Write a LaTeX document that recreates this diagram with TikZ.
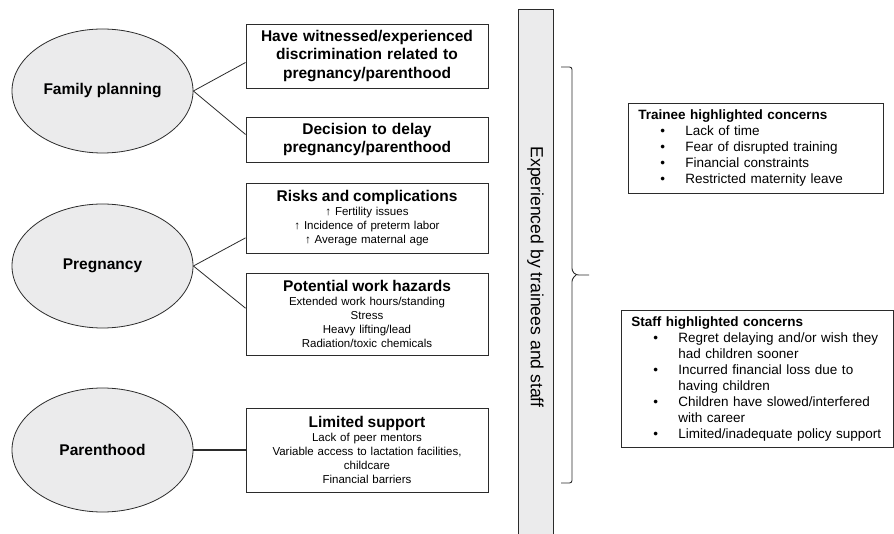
\documentclass[tikz,border=0pt]{standalone}
\usepackage{fontspec}
\setmainfont{Liberation Sans}
\usetikzlibrary{shapes.geometric,calc}
\definecolor{fillg}{HTML}{EBEBEC}
\definecolor{lineg}{HTML}{2B2B2B}
\newcommand\bitem[1]{\hspace*{22pt}\makebox[25pt][l]{•}#1}
\newcommand\bcont[1]{\hspace*{47pt}#1}
\begin{document}
\begin{tikzpicture}[x=1pt,y=-1pt,
 oval/.style={ellipse, draw=lineg, fill=fillg, line width=0.8pt, minimum width=181pt, minimum height=124pt, inner sep=0pt, font=\fontsize{15.5}{18}\selectfont\bfseries},
 lbox/.style={draw=lineg, line width=0.9pt, text width=232pt, align=center, inner xsep=5pt, inner ysep=0pt},
 boldtxt/.style={font=\fontsize{15.5}{18.3}\selectfont\bfseries},
 smalltxt/.style={font=\fontsize{11.5}{14}\selectfont},
 rbox/.style={draw=lineg, line width=0.9pt, align=left, inner ysep=0pt, anchor=north west, font=\fontsize{13.5}{16}\selectfont},
 link/.style={draw=lineg, line width=0.8pt},
 bracestyle/.style={draw=lineg, line width=0.9pt, rounded corners=2.5pt}]
\useasboundingbox (0,0) rectangle (894,534);
\clip (0,0) rectangle (894,534);
\fill[white] (0,0) rectangle (894,534);

% ellipses
\node[oval] (fp) at (102.5,91) {Family planning};
\node[oval] (pg) at (102.5,266) {Pregnancy};
\node[oval] (ph) at (102.5,450) {Parenthood};

% left boxes
\node[lbox, boldtxt, minimum height=64pt] (b1) at (367,56) {Have witnessed/experienced\\discrimination related to\\pregnancy/parenthood};
\node[lbox, boldtxt, minimum height=45pt] (b2) at (367,139.5) {Decision to delay\\pregnancy/parenthood};
\node[lbox, smalltxt, minimum height=70pt] (b3) at (367,218) {{\fontsize{15.5}{16}\selectfont\bfseries Risks and complications}\\ ↑ Fertility issues\\ ↑ Incidence of preterm labor\\ ↑ Average maternal age};
\node[lbox, smalltxt, minimum height=82pt] (b4) at (367,314) {{\fontsize{15.5}{16}\selectfont\bfseries Potential work hazards}\\ Extended work hours/standing\\ Stress\\ Heavy lifting/lead\\ Radiation/toxic chemicals};
\node[lbox, smalltxt, minimum height=84pt] (b5) at (367,450) {{\fontsize{15.5}{16}\selectfont\bfseries Limited support}\\ Lack of peer mentors\\ Variable access to lactation facilities,\\ childcare\\ Financial barriers};

% connectors
\draw[link] (fp.east) -- ($(b1.north west)!0.6!(b1.south west)$);
\draw[link] (fp.east) -- ($(b2.north west)!0.39!(b2.south west)$);
\draw[link] (pg.east) -- ($(b3.north west)!0.78!(b3.south west)$);
\draw[link] (pg.east) -- ($(b4.north west)!0.43!(b4.south west)$);
\draw[link, line width=1.4pt] (ph.east) -- (b5.west);

% vertical bar
\node[draw=lineg, fill=fillg, line width=0.9pt, minimum width=536pt, minimum height=35pt, inner sep=0pt, rotate=-90, font=\fontsize{17.6}{20}\selectfont] (bar) at (535.5,277) {Experienced by trainees and staff};

% brace
\coordinate (btop) at (561,67);
\coordinate (btip) at (589,275);
\coordinate (bbot) at (561,483);
\draw[bracestyle] (btop) -- (572,67) -- (572,271) -- (576,275) -- (btip);
\draw[bracestyle] (576,275) -- (572,279) -- (572,483) -- (bbot);

% right boxes
\node[rbox, minimum width=255pt, minimum height=90pt, text width=235pt, inner xsep=10pt] (tr) at (628,103) {\textbf{Trainee highlighted concerns}\\
\bitem{Lack of time}\\
\bitem{Fear of disrupted training}\\
\bitem{Financial constraints}\\
\bitem{Restricted maternity leave}};

\node[rbox, minimum width=272pt, minimum height=137pt, text width=252pt, inner xsep=10pt] (st) at (621,310) {\textbf{Staff highlighted concerns}\\
\bitem{Regret delaying and/or wish they}\\
\bcont{had children sooner}\\
\bitem{Incurred financial loss due to}\\
\bcont{having children}\\
\bitem{Children have slowed/interfered}\\
\bcont{with career}\\
\bitem{Limited/inadequate policy support}};
\end{tikzpicture}
\end{document}
